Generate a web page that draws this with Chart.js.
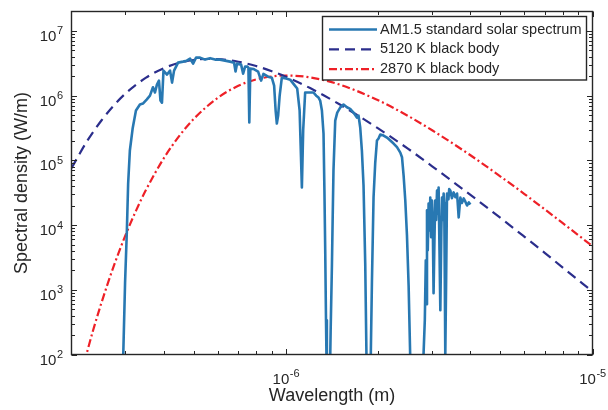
<!DOCTYPE html>
<html>
<head>
<meta charset="utf-8">
<script src="https://cdn.jsdelivr.net/npm/chart.js@4"></script>
<style>
  body { margin: 0; background: #fff; }
  canvas { display: block; }
</style>
</head>
<body>
<canvas id="myChart" width="608" height="410"></canvas>
<script>
// AM1.5 spectrum (wavelength in m)
var solarWavelength = [
  2.88e-7, 2.92e-7, 2.95e-7, 2.99e-7, 3.03e-7, 3.06e-7, 3.10e-7, 3.165e-7, 3.245e-7, 3.343e-7,
  3.419e-7, 3.516e-7, 3.605e-7, 3.687e-7, 3.743e-7, 3.799e-7, 3.857e-7, 3.901e-7, 3.945e-7, 3.99e-7,
  4.098e-7, 4.192e-7, 4.256e-7, 4.32e-7, 4.452e-7, 4.622e-7, 4.752e-7, 4.872e-7, 4.983e-7, 5.096e-7,
  5.253e-7, 5.453e-7, 5.661e-7, 5.877e-7, 6.1e-7, 6.334e-7, 6.576e-7, 6.777e-7, 6.855e-7, 6.934e-7,
  7.147e-7, 7.256e-7, 7.365e-7, 7.505e-7, 7.55e-7, 7.6e-7, 7.66e-7, 7.836e-7, 8.12e-7, 8.306e-7,
  8.451e-7, 8.754e-7, 9.0e-7, 9.158e-7, 9.262e-7, 9.346e-7, 9.438e-7, 9.546e-7, 9.703e-7, 1.0023e-6,
  1.033e-6, 1.064e-6, 1.089e-6, 1.109e-6, 1.128e-6, 1.139e-6, 1.156e-6, 1.191e-6, 1.23e-6, 1.256e-6,
  1.278e-6, 1.294e-6, 1.311e-6, 1.327e-6, 1.336e-6, 1.344e-6, 1.352e-6, 1.361e-6, 1.385e-6, 1.4e-6,
  1.413e-6, 1.421e-6, 1.43e-6, 1.449e-6, 1.471e-6, 1.504e-6, 1.542e-6, 1.582e-6, 1.621e-6, 1.662e-6,
  1.705e-6, 1.726e-6, 1.748e-6, 1.77e-6, 1.792e-6, 1.815e-6, 1.838e-6, 1.863e-6, 1.891e-6, 1.909e-6,
  1.932e-6, 1.956e-6, 1.982e-6, 2.006e-6, 2.032e-6, 2.083e-6, 2.137e-6, 2.191e-6, 2.246e-6, 2.304e-6,
  2.362e-6, 2.392e-6, 2.421e-6, 2.452e-6, 2.483e-6, 2.514e-6, 2.546e-6, 2.584e-6, 2.703e-6, 2.786e-6,
  2.813e-6, 2.839e-6, 2.86e-6, 2.873e-6, 2.886e-6, 2.903e-6, 2.921e-6, 2.94e-6, 2.958e-6, 2.977e-6,
  2.996e-6, 3.014e-6, 3.032e-6, 3.052e-6, 3.07e-6, 3.091e-6, 3.112e-6, 3.13e-6, 3.149e-6, 3.17e-6,
  3.19e-6, 3.214e-6, 3.231e-6, 3.25e-6, 3.27e-6, 3.285e-6, 3.299e-6, 3.311e-6, 3.332e-6, 3.354e-6,
  3.39e-6, 3.41e-6, 3.439e-6, 3.48e-6, 3.525e-6, 3.57e-6, 3.617e-6, 3.661e-6, 3.708e-6, 3.75e-6,
  3.801e-6, 3.85e-6, 3.899e-6, 3.952e-6, 3.997e-6
];
var solarDensity = [
  10, 80, 100, 1.26e3, 7.8e3, 4.36e4, 1.42e5, 3.1e5, 5.9e5, 7.3e5,
  7.55e5, 8.7e5, 1.0e6, 1.35e6, 1.12e6, 1.48e6, 1.71e6, 8.4e5, 7.8e5, 2.44e6,
  2.12e6, 2.44e6, 1.59e6, 2.44e6, 3.24e6, 3.36e6, 3.48e6, 3.74e6, 3.13e6, 3.87e6,
  3.87e6, 3.61e6, 3.8e6, 3.61e6, 3.61e6, 3.48e6, 3.36e6, 3.24e6, 2.36e6, 3.13e6,
  3.02e6, 2.19e6, 2.81e6, 2.81e6, 2.7e6, 3.85e5, 2.62e6, 2.59e6, 2.36e6, 1.71e6,
  2.17e6, 1.97e6, 1.9e6, 1.43e6, 5.9e5, 3.71e5, 4.93e5, 1.0e6, 1.9e6, 1.84e6,
  1.77e6, 1.48e6, 1.29e6, 5.9e5, 3.82e4, 2.9e5, 1.12e6, 1.12e6, 1.12e6, 1.0e6,
  9.35e5, 8.4e5, 5.9e5, 2.6e5, 3.44e4, 4.08e3, 338, 30, 10, 237,
  2.22e3, 1.18e4, 6.98e4, 4.12e5, 5.48e5, 6.55e5, 7.3e5, 6.62e5, 6.25e5, 5.48e5,
  4.59e5, 4.93e5, 3.22e5, 1.42e5, 4.1e4, 2.56e3, 30, 10, 80, 1.4e3,
  2.67e4, 8.96e4, 2.03e5, 2.18e5, 2.51e5, 2.42e5, 2.25e5, 2.03e5, 1.82e5, 1.6e5,
  1.32e5, 1.12e5, 5.85e4, 2.4e4, 6.93e3, 1.17e3, 80, 10, 10, 20,
  105, 338, 2.85e3, 600, 1.69e4, 4.08e3, 2.16e4, 8.3e3, 2.67e4, 6.5e3,
  2.4e4, 1.1e4, 883, 5.8e3, 2.4e4, 1.2e4, 3.43e4, 1.5e4, 3.82e4, 4.08e3,
  483, 8.28e3, 2.67e4, 1.2e4, 3.08e4, 2.2e4, 1.4e3, 95, 1.4e3, 3.08e4,
  2.5e4, 3.6e4, 3.43e4, 2.6e4, 3.2e4, 2.7e4, 3.08e4, 1.31e4, 2.67e4, 2.2e4,
  2.58e4, 2.3e4, 2.01e4, 2.24e4, 2.08e4
];

// 5120 K black body
var bb5120Wavelength = [2e-7, 2.25e-7, 2.5e-7, 2.75e-7, 3e-7, 3.5e-7, 4e-7, 4.5e-7, 5e-7, 5.5e-7, 6e-7, 7e-7, 8e-7, 9e-7,
  1e-6, 1.2e-6, 1.5e-6, 2e-6, 2.5e-6, 3e-6, 4e-6, 5e-6, 6e-6, 7e-6, 8e-6, 1e-5];
var bb5120Density = [7.6e4, 2.0e5, 4.1e5, 7.1e5, 1.08e6, 1.9e6, 2.66e6, 3.23e6, 3.56e6, 3.69e6, 3.67e6, 3.35e6, 2.87e6, 2.39e6,
  1.96e6, 1.31e6, 7.3e5, 3.12e5, 1.52e5, 8.1e4, 2.93e4, 1.3e4, 6.6e3, 3.7e3, 2.2e3, 940];

// 2870 K black body
var bb2870Wavelength = [2.2e-7, 2.35e-7, 2.5e-7, 2.75e-7, 3e-7, 3.25e-7, 3.5e-7, 4e-7, 4.5e-7, 5e-7, 6e-7, 7e-7, 8e-7, 9e-7,
  1e-6, 1.2e-6, 1.5e-6, 2e-6, 2.5e-6, 3e-6, 4e-6, 5e-6, 6e-6, 7e-6, 8e-6, 1e-5];
var bb2870Density = [75, 233, 613, 2.36e3, 6.98e3, 1.69e4, 3.51e4, 1.08e5, 2.41e5, 4.34e5, 9.27e5, 1.42e6, 1.78e6, 1.98e6,
  2.05e6, 1.92e6, 1.48e6, 8.5e5, 4.88e5, 2.92e5, 1.2e5, 5.68e4, 3.02e4, 1.74e4, 1.07e4, 4710];

// axis labels
var xMajorTicks = [1e-6, 1e-5];
var xTickExponents = ['-6', '-5'];
var yMajorTicks = [1e2, 1e3, 1e4, 1e5, 1e6, 1e7];
var yTickExponents = ['2', '3', '4', '5', '6', '7'];
var legendLabels = ['AM1.5 standard solar spectrum', '5120 K black body', '2870 K black body'];
var lineColors = ['#2878b2', '#2b2e8c', '#ee2027'];
var lineDashes = [[], [10, 6], [8, 3, 2, 3]];

var FONT = '"Liberation Sans", Arial, sans-serif';

function toPoints(xs, ys) {
  return xs.map(function (x, i) { return { x: x, y: ys[i] }; });
}

// MATLAB-like box axes, inward ticks, 10^n labels and the legend
var axesPlugin = {
  id: 'matlabAxes',
  afterDraw: function (chart) {
    var ctx = chart.ctx;
    var a = chart.chartArea;
    var xs = chart.scales.x, ys = chart.scales.y;
    var i, k, p;
    ctx.save();
    ctx.strokeStyle = '#262626';
    ctx.fillStyle = '#262626';
    ctx.lineWidth = 1;

    // minor / major ticks
    var xMinor = [], yMinor = [];
    [1e-7, 1e-6].forEach(function (d) {
      for (k = 2; k <= 9; k++) if (k * d > 2e-7 && k * d < 1e-5) xMinor.push(k * d);
    });
    [1e2, 1e3, 1e4, 1e5, 1e6, 1e7].forEach(function (d) {
      for (k = 2; k <= 9; k++) if (k * d < 2e7) yMinor.push(k * d);
    });
    ctx.beginPath();
    function xTick(v, len) {
      p = Math.round(xs.getPixelForValue(v)) + 0.5;
      ctx.moveTo(p, a.bottom); ctx.lineTo(p, a.bottom - len);
      ctx.moveTo(p, a.top); ctx.lineTo(p, a.top + len);
    }
    function yTick(v, len) {
      p = Math.round(ys.getPixelForValue(v)) + 0.5;
      ctx.moveTo(a.left, p); ctx.lineTo(a.left + len, p);
      ctx.moveTo(a.right, p); ctx.lineTo(a.right - len, p);
    }
    xMinor.forEach(function (v) { xTick(v, 3.5); });
    xMajorTicks.forEach(function (v) { xTick(v, 5.5); });
    yMinor.forEach(function (v) { yTick(v, 3.5); });
    yMajorTicks.forEach(function (v) { yTick(v, 5.5); });
    ctx.stroke();

    ctx.lineWidth = 1.4;
    ctx.strokeRect(a.left, a.top, a.right - a.left, a.bottom - a.top);

    // tick labels 10^n
    function power(exp, x, y, align) {
      ctx.font = '15px ' + FONT;
      var w1 = ctx.measureText('10').width;
      ctx.font = '11px ' + FONT;
      var w2 = ctx.measureText(exp).width;
      var x0 = align === 'center' ? x - (w1 + w2) / 2 : x - (w1 + w2);
      ctx.textAlign = 'left';
      ctx.textBaseline = 'alphabetic';
      ctx.font = '15px ' + FONT;
      ctx.fillText('10', x0, y);
      ctx.font = '11px ' + FONT;
      ctx.fillText(exp, x0 + w1 + 0.5, y - 6.5);
    }
    for (i = 0; i < xMajorTicks.length; i++) {
      power(xTickExponents[i], xs.getPixelForValue(xMajorTicks[i]), a.bottom + 29, 'center');
    }
    for (i = 0; i < yMajorTicks.length; i++) {
      power(yTickExponents[i], a.left - 9, ys.getPixelForValue(yMajorTicks[i]) + 10, 'right');
    }

    // axis titles
    ctx.font = '18px ' + FONT;
    ctx.textAlign = 'center';
    ctx.textBaseline = 'alphabetic';
    ctx.fillText('Wavelength (m)', (a.left + a.right) / 2, 401);
    ctx.save();
    ctx.translate(27, (a.top + a.bottom) / 2);
    ctx.rotate(-Math.PI / 2);
    ctx.fillText('Spectral density (W/m)', 0, 0);
    ctx.restore();

    // legend
    var lx = 322.5, ly = 16.5, lw = 264, lh = 63.5;
    ctx.fillStyle = '#ffffff';
    ctx.fillRect(lx, ly, lw, lh);
    ctx.lineWidth = 1.4;
    ctx.strokeStyle = '#262626';
    ctx.strokeRect(lx, ly, lw, lh);
    ctx.font = '14.5px ' + FONT;
    ctx.textAlign = 'left';
    ctx.textBaseline = 'middle';
    for (i = 0; i < legendLabels.length; i++) {
      var ry = 29.5 + i * 19.8;
      ctx.strokeStyle = lineColors[i];
      ctx.lineWidth = i === 0 ? 2.6 : 2.2;
      ctx.setLineDash(lineDashes[i]);
      ctx.beginPath();
      ctx.moveTo(329, ry);
      ctx.lineTo(377, ry);
      ctx.stroke();
      ctx.setLineDash([]);
      ctx.fillStyle = '#262626';
      ctx.fillText(legendLabels[i], 380, ry);
    }
    ctx.restore();
  }
};

new Chart('myChart', {
  type: 'line',
  data: {
    datasets: [
      {
        label: legendLabels[0],
        data: toPoints(solarWavelength, solarDensity),
        borderColor: lineColors[0],
        borderWidth: 2.6,
        borderJoinStyle: 'round',
        tension: 0
      },
      {
        label: legendLabels[1],
        data: toPoints(bb5120Wavelength, bb5120Density),
        borderColor: lineColors[1],
        borderWidth: 2.2,
        borderDash: lineDashes[1],
        cubicInterpolationMode: 'monotone'
      },
      {
        label: legendLabels[2],
        data: toPoints(bb2870Wavelength, bb2870Density),
        borderColor: lineColors[2],
        borderWidth: 2.2,
        borderDash: lineDashes[2],
        cubicInterpolationMode: 'monotone'
      }
    ]
  },
  options: {
    responsive: false,
    animation: false,
    devicePixelRatio: 1,
    layout: { padding: { left: 71.5, top: 11.5, right: 15.5, bottom: 55.5 } },
    elements: { point: { radius: 0 } },
    scales: {
      x: { type: 'logarithmic', min: 2e-7, max: 1e-5, display: false },
      y: { type: 'logarithmic', min: 1e2, max: 2e7, display: false }
    },
    plugins: { legend: { display: false }, tooltip: { enabled: false } }
  },
  plugins: [axesPlugin]
});
</script>
</body>
</html>
